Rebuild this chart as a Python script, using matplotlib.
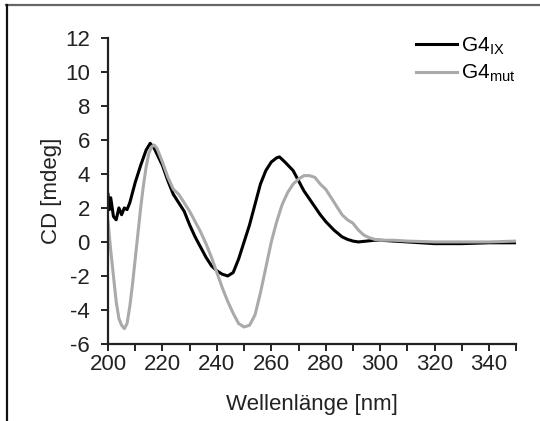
import matplotlib
matplotlib.use("Agg")
import matplotlib.pyplot as plt
from matplotlib.lines import Line2D
from matplotlib.ticker import MultipleLocator

plt.rcParams['font.family'] = ['Liberation Sans', 'DejaVu Sans']
plt.rcParams['axes.unicode_minus'] = False

# G4_IX (black)
wl_ix = [200, 200.5, 201, 202, 203, 204, 205, 206, 207, 208, 210, 212, 214, 215.5, 217,
         220, 222, 224, 226, 228, 230, 232, 234, 236, 238, 240, 242, 244, 246, 248,
         250, 252, 254, 256, 258, 260, 262, 263, 265, 268, 270, 272, 275, 278, 280,
         283, 286, 288, 290, 292, 295, 298, 300, 305, 310, 320, 330, 340, 350]
cd_ix = [2.8, 1.9, 2.6, 1.5, 1.3, 2.0, 1.6, 2.0, 1.9, 2.3, 3.5, 4.5, 5.4, 5.8, 5.5,
         4.5, 3.6, 2.8, 2.3, 1.8, 1.0, 0.3, -0.3, -0.9, -1.4, -1.7, -1.9, -2.0, -1.8, -1.0,
         0.0, 1.0, 2.2, 3.4, 4.2, 4.7, 4.95, 5.0, 4.7, 4.2, 3.6, 3.0, 2.3, 1.6, 1.2,
         0.7, 0.3, 0.15, 0.05, 0.0, 0.05, 0.1, 0.1, 0.05, 0.0, -0.1, -0.1, -0.05, -0.05]

# G4_mut (grey)
wl_mut = [200, 201, 202, 203, 204, 205, 206, 207, 208, 209, 210, 211, 212, 213, 214,
          215, 216, 217, 218, 220, 222, 224, 226, 228, 230, 232, 234, 236, 238, 240,
          242, 244, 246, 248, 250, 252, 254, 256, 258, 260, 262, 264, 266, 268, 270,
          272, 274, 276, 278, 280, 282, 284, 286, 288, 290, 292, 294, 296, 298, 300,
          305, 310, 320, 330, 340, 350]
cd_mut = [1.2, -0.5, -2.0, -3.5, -4.5, -4.9, -5.1, -4.8, -3.8, -2.5, -1.0, 0.5, 2.0, 3.3, 4.4,
          5.2, 5.6, 5.7, 5.5, 4.7, 3.8, 3.1, 2.8, 2.3, 1.8, 1.2, 0.6, -0.1, -0.9, -1.8,
          -2.7, -3.5, -4.2, -4.8, -5.0, -4.9, -4.3, -3.0, -1.5, 0.0, 1.2, 2.2, 2.9, 3.4, 3.7,
          3.9, 3.9, 3.8, 3.4, 3.1, 2.6, 2.1, 1.6, 1.3, 1.1, 0.7, 0.4, 0.25, 0.15, 0.1,
          0.1, 0.05, 0.0, 0.0, 0.0, 0.05]

fig = plt.figure(figsize=(5.4, 4.21), dpi=100)
ax = fig.add_axes([0.2, 0.183, 0.756, 0.727])

# frame lines (top grey, left black) around the figure
fig.lines.append(Line2D([0.012, 1.0], [0.988, 0.988], transform=fig.transFigure,
                        color='#666666', lw=1.6))
fig.lines.append(Line2D([0.013, 0.013], [0.0, 0.988], transform=fig.transFigure,
                        color='#111111', lw=1.6))

ax.plot(wl_ix, cd_ix, color='black', lw=2.2, label='G4$_{\\mathregular{IX}}$')
ax.plot(wl_mut, cd_mut, color='#aaaaaa', lw=2.2, label='G4$_{\\mathregular{mut}}$')

ax.set_xlim(200, 350)
ax.set_ylim(-6, 12)
ax.xaxis.set_major_locator(MultipleLocator(20))
ax.xaxis.set_minor_locator(MultipleLocator(10))
ax.yaxis.set_major_locator(MultipleLocator(2))
ax.spines['top'].set_visible(False)
ax.spines['right'].set_visible(False)
for s in ('left', 'bottom'):
    ax.spines[s].set_linewidth(1.6)
    ax.spines[s].set_color('#222222')
ax.tick_params(which='both', direction='out', length=5, width=1.4, colors='#222222',
               labelsize=16)
ax.tick_params(axis='x', which='both', pad=2)
ax.tick_params(axis='y', pad=8)
ax.set_xlabel('Wellenlänge [nm]', fontsize=16, color='#222222', labelpad=14)
ax.set_ylabel('CD [mdeg]', fontsize=16, color='#222222', labelpad=2)

ax.legend(loc='upper left', frameon=False, fontsize=15, handlelength=2.0,
          handletextpad=0.15, labelspacing=0.3, borderpad=0, borderaxespad=0,
          bbox_to_anchor=(0.770, 0.917), bbox_transform=fig.transFigure)

fig.savefig('out.png', dpi=100)
